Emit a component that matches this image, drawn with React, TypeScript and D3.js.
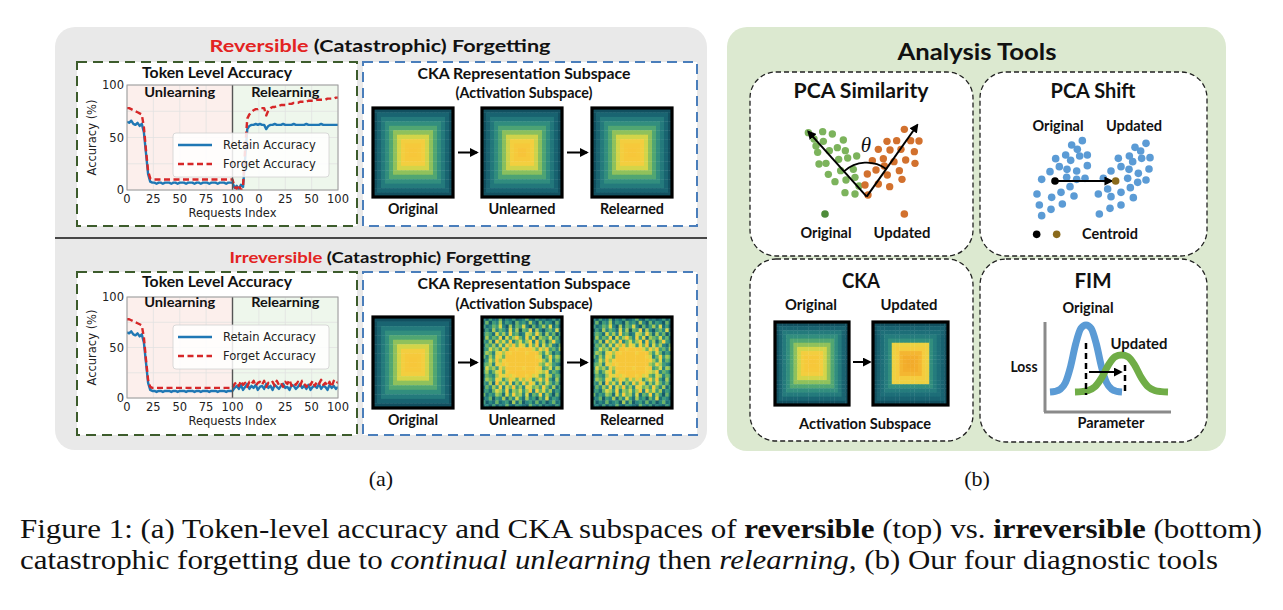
import React from "react";
import * as d3 from "d3";

const W = 1283;
const H = 610;

const CAL = "Lato, 'Open Sans', 'DejaVu Sans', sans-serif";
const MPL = "'DejaVu Sans', sans-serif";
const SERIF = "'Liberation Serif', 'Times New Roman', Tinos, Times, serif";

// ---------------- Token-level accuracy data (request index, step 2) ----------------
const requestStep = 2;
const xTickValues = [0, 25, 50, 75, 100, 125, 150, 175, 200];
const xTickLabels = ["0", "25", "50", "75", "100", "0", "25", "50", "100"];
const yTickValues = [0, 50, 100];
const yGridValues = [0, 25, 50, 75, 100];

// x = 0..100 (unlearning phase)
const unlearnRetain = [
  65, 64, 66, 63, 62, 64, 61, 63,
  55, 35, 15, 8, 7,
  7, 6, 7, 7, 6, 7, 7, 7, 6, 7,
  7, 6, 7, 7, 7, 6, 7, 7, 7, 6,
  7, 7, 6, 7, 7, 7, 6, 7, 7, 7,
  6, 7, 7, 7, 6, 7, 7,
  7,
];
const unlearnForget = [
  78, 78, 77, 76, 75, 74, 73, 72,
  60, 38, 18, 11, 10,
  10, 10, 10, 10, 10, 10, 10, 10, 10, 10,
  10, 10, 10, 10, 10, 10, 10, 10, 10, 10,
  10, 10, 10, 10, 10, 10, 10, 10, 10, 10,
  10, 10, 10, 10, 10, 10, 10,
  10,
];
// x = 102..200 (relearning phase)
const revRelearnRetain = [
  2, 4, 1, 5, 3, 30,
  58, 61, 62, 62, 63, 62, 63, 62, 62, 58,
  61, 62, 62, 63, 62, 62, 62, 63, 62, 62,
  62, 62, 63, 62, 62, 62, 62, 62, 63, 62,
  62, 62, 62, 62, 62, 63, 62, 62, 62, 62,
  62, 62, 62, 62,
];
const revRelearnForget = [
  3, 1, 5, 0, 4, 40,
  68, 72, 74, 76, 77, 77, 78, 78, 78, 71, 76,
  78, 79, 79, 80, 80, 81, 81, 81, 82, 82,
  82, 83, 83, 83, 84, 84, 84, 84, 85, 85,
  85, 85, 86, 86, 86, 86, 86, 87, 87, 87,
  87, 88, 88,
];
const irrRelearnRetain = [
  10, 12, 9, 13, 8, 11, 14, 9, 12, 10,
  13, 8, 11, 12, 9, 14, 10, 12, 8, 13,
  11, 9, 12, 14, 10, 11, 8, 13, 12, 9,
  11, 14, 10, 12, 9, 13, 8, 11, 12, 10,
  14, 9, 12, 11, 8, 13, 10, 12, 9, 11,
];
const irrRelearnForget = [
  14, 16, 12, 17, 13, 15, 11, 16, 14, 17,
  12, 15, 16, 13, 17, 11, 15, 14, 16, 12,
  17, 13, 15, 11, 16, 14, 18, 12, 15, 13,
  16, 12, 17, 14, 11, 15, 13, 17, 12, 16,
  14, 18, 13, 15, 12, 16, 11, 17, 14, 16,
];

// ---------------- CKA heatmaps (levels 0..10) ----------------
const ckaColorLevels = [0, 1, 2, 3, 4, 5, 6, 7, 8, 9, 10];
const ckaColorStops = [
  "#0e4556", "#155a6a", "#1d6e78", "#2a8580", "#3f9c7a", "#6cb466",
  "#a6c955", "#d8d648", "#f2d040", "#f7c73a", "#f2ab2b",
];
// ring values, outermost ring first
const ckaRevOriginalRings = [0.5, 1.5, 2.5, 3.4, 4.4, 5.6, 6.9, 8.2, 8.8, 9.0];
const ckaRevUnlearnedRings = [0.5, 1.4, 2.4, 3.3, 4.3, 5.5, 6.8, 8.1, 8.8, 9.1];
const ckaRevRelearnedRings = [0.5, 1.5, 2.5, 3.4, 4.4, 5.6, 6.9, 8.2, 8.8, 9.0];
const ckaToolUpdatedRings = [0.5, 1.4, 2.0, 2.6, 3.4, 7.8, 8.4, 9.6, 9.9, 10];
const ckaIrrUnlearnedRows = [
  "314225132412352142312413",
  "251436243153426315243152",
  "423547316254731524637241",
  "142635427361548263145372",
  "354274638452376485263514",
  "263548274695384726547352",
  "436285749357468394625843",
  "254637486958748593746325",
  "347564859989999758694536",
  "465378698999989996475243",
  "536487599999999987358465",
  "247596899999999998647354",
  "456387989999999996586432",
  "375648699999899989457365",
  "463579589999999987683542",
  "254368797899989785476354",
  "365487469758697468594263",
  "436295748364859736475352",
  "253648375946387564853624",
  "342576483657469385746243",
  "524365274856372548364152",
  "235143625374263415372431",
  "413252341625134252413523",
  "231413252143215324132142",
];
const ckaIrrRelearnedRows = [
  "314225132412352142312413",
  "251436243153426315243152",
  "423547316254731524637241",
  "142635427361548263145372",
  "354274638452376485263514",
  "263548274695384726547352",
  "436285749357468394625843",
  "254637486958748593746325",
  "347564859989999758694536",
  "465378698999989996475243",
  "536487599999999987358465",
  "247596899999999998647354",
  "456387989999999996586432",
  "375648699999899989457365",
  "463579589999999987683542",
  "254368797899989785476354",
  "365487469758697468594263",
  "436295748364859736475352",
  "253648375946387564853624",
  "342576483657469385746243",
  "524365274856372548364152",
  "235143625374263415372431",
  "413252341625134252413523",
  "231413252143215324132142",
];

// ---------------- PCA similarity (panel units 0..720 x 0..570) ----------------
const pcaSimOriginal: [number, number][] = [
  [205, 188], [248, 185], [222, 207], [277, 192], [250, 214], [310, 210],
  [228, 228], [233, 247], [268, 242], [292, 233], [316, 242], [350, 258],
  [237, 282], [258, 280], [296, 268], [323, 264], [265, 313], [302, 302],
  [340, 298], [285, 335], [318, 330], [345, 322], [357, 348], [315, 368],
  [345, 372],
];
const pcaSimUpdated: [number, number][] = [
  [493, 178], [441, 214], [470, 212], [512, 212], [537, 213], [415, 238],
  [450, 240], [483, 238], [523, 245], [397, 272], [430, 266], [462, 275],
  [497, 270], [525, 280], [382, 312], [408, 300], [442, 315], [478, 302],
  [375, 345], [415, 342], [449, 350], [486, 328], [384, 375], [433, 288],
];
const pcaSimVertex: [number, number] = [380, 380];
const pcaSimAxisOriginal: [number, number] = [205, 185];
const pcaSimAxisUpdated: [number, number] = [532, 165];

// ---------------- PCA shift ----------------
const pcaShiftOriginal: [number, number][] = [
  [200, 328], [186, 372], [193, 405], [200, 437], [228, 418], [230, 382],
  [225, 305], [242, 266], [253, 290], [262, 402], [258, 367], [272, 255],
  [287, 271], [290, 225], [307, 238], [322, 212], [314, 258], [337, 255],
  [337, 287], [305, 303], [276, 298], [275, 322], [285, 350], [297, 378],
  [305, 328], [330, 325],
];
const pcaShiftUpdated: [number, number][] = [
  [385, 325], [408, 303], [398, 357], [370, 372], [373, 432], [405, 415],
  [408, 380], [430, 265], [438, 290], [438, 405], [438, 367], [463, 258],
  [462, 298], [458, 325], [466, 353], [475, 383], [480, 232], [497, 243],
  [473, 275], [500, 265], [513, 220], [525, 263], [522, 297], [490, 310],
  [513, 330], [488, 337],
];
const pcaShiftCentroidOriginal: [number, number] = [240, 333];
const pcaShiftCentroidUpdated: [number, number] = [422, 333];

// ---------------- FIM bell profile ----------------
const fimBellProfile = [0, 0.01, 0.04, 0.14, 0.38, 0.72, 0.95, 1, 0.95, 0.72, 0.38, 0.14, 0.04, 0.01, 0];

// =====================================================================
const ckaColor = d3
  .scaleLinear<string>()
  .domain(ckaColorLevels)
  .range(ckaColorStops)
  .interpolate(d3.interpolateRgb)
  .clamp(true);

function ringsToMatrix(rings: number[]): number[][] {
  const n = rings.length * 2;
  return d3.range(n).map((i) =>
    d3.range(n).map((j) => rings[Math.min(i, j, n - 1 - i, n - 1 - j)])
  );
}
function rowsToMatrix(rows: string[]): number[][] {
  return rows.map((r) => r.replace(/\s/g, "").split("").map(Number));
}

function Label(props: any) {
  const {
    x, y, size, len, children, fill = "#111", anchor = "middle",
    weight = 700, family = CAL, style, transform,
  } = props;
  return (
    <text
      x={x}
      y={y}
      fontSize={size}
      fontWeight={weight}
      fontFamily={family}
      fill={fill}
      textAnchor={anchor}
      textLength={len}
      lengthAdjust={len ? "spacingAndGlyphs" : undefined}
      style={style}
      transform={transform}
    >
      {children}
    </text>
  );
}

function Heatmap({ x, y, w, h, matrix }: { x: number; y: number; w: number; h: number; matrix: number[][] }) {
  const rows = matrix.length;
  const cols = d3.max(matrix, (r) => r.length) || 1;
  const xs = d3.scaleBand<number>().domain(d3.range(cols)).range([x, x + w]);
  const ys = d3.scaleBand<number>().domain(d3.range(rows)).range([y, y + h]);
  return (
    <g>
      {matrix.map((row, i) =>
        row.map((v, j) => (
          <rect
            key={i + "-" + j}
            x={xs(j)}
            y={ys(i)}
            width={xs.bandwidth() + 0.4}
            height={ys.bandwidth() + 0.4}
            fill={ckaColor(v)}
          />
        ))
      )}
      <rect x={x} y={y} width={w} height={h} fill="none" stroke="#000" strokeWidth={3.2} />
    </g>
  );
}

type AccLayout = {
  id: string;
  plotTop: number;
  plotBottom: number;
  boxTop: number;
  boxBottom: number;
  legendTop: number;
  titleY: number;
  phaseY: number;
};

function AccuracyPanel({ layout, retain, forget }: { layout: AccLayout; retain: number[]; forget: number[] }) {
  const { id, plotTop, plotBottom, boxTop, boxBottom, legendTop, titleY, phaseY } = layout;
  const x = d3.scaleLinear().domain([0, 200]).range([127, 338]);
  const y = d3.scaleLinear().domain([0, 100]).range([plotBottom, plotTop]);
  const line = d3
    .line<number>()
    .x((_, i) => x(i * requestStep))
    .y((d) => y(d));
  const lx = 173;
  return (
    <g>
      <rect x={77} y={boxTop} width={280} height={boxBottom - boxTop} fill="#fff" stroke="#3d5c2c" strokeWidth={2} strokeDasharray="10,6" />
      <clipPath id={id}>
        <rect x={x(0)} y={plotTop} width={x(200) - x(0)} height={plotBottom - plotTop} />
      </clipPath>
      <rect x={x(0)} y={plotTop} width={x(100) - x(0)} height={plotBottom - plotTop} fill="#fcefec" />
      <rect x={x(100)} y={plotTop} width={x(200) - x(100)} height={plotBottom - plotTop} fill="#eef7ec" />
      {xTickValues.map((t) => (
        <line key={"gx" + t} x1={x(t)} x2={x(t)} y1={plotTop} y2={plotBottom} stroke="#e2e2e2" strokeWidth={0.8} />
      ))}
      {yGridValues.map((t) => (
        <line key={"gy" + t} x1={x(0)} x2={x(200)} y1={y(t)} y2={y(t)} stroke="#e2e2e2" strokeWidth={0.8} />
      ))}
      <g clipPath={`url(#${id})`}>
        <path d={line(retain) || ""} fill="none" stroke="#1f77b4" strokeWidth={2.4} strokeLinejoin="round" />
        <path d={line(forget) || ""} fill="none" stroke="#d62728" strokeWidth={2.4} strokeDasharray="6,3.5" strokeLinejoin="round" />
      </g>
      <line x1={x(100)} x2={x(100)} y1={plotTop} y2={plotBottom} stroke="#555" strokeWidth={1.4} />
      <rect x={x(0)} y={plotTop} width={x(200) - x(0)} height={plotBottom - plotTop} fill="none" stroke="#9a9a9a" strokeWidth={1} />
      {xTickValues.map((t, i) => (
        <text key={"tx" + t} x={x(t)} y={plotBottom + 13} fontSize={11.5} fontFamily={MPL} fill="#222" textAnchor="middle">
          {xTickLabels[i]}
        </text>
      ))}
      {yTickValues.map((t) => (
        <text key={"ty" + t} x={x(0) - 3} y={y(t) + 4} fontSize={11.5} fontFamily={MPL} fill="#222" textAnchor="end">
          {t}
        </text>
      ))}
      <text
        x={0}
        y={0}
        transform={`translate(${92},${(plotTop + plotBottom) / 2}) rotate(-90)`}
        fontSize={11.5}
        fontFamily={MPL}
        fill="#222"
        textAnchor="middle"
        dominantBaseline="middle"
      >
        Accuracy (%)
      </text>
      <text x={x(100)} y={plotBottom + 27} fontSize={11.5} fontFamily={MPL} fill="#222" textAnchor="middle">
        Requests Index
      </text>
      {/* legend */}
      <rect x={lx} y={legendTop} width={156} height={44} rx={3} fill="#fff" fillOpacity={0.85} stroke="#d0d0d0" strokeWidth={0.8} />
      <line x1={lx + 5} x2={lx + 39} y1={legendTop + 12} y2={legendTop + 12} stroke="#1f77b4" strokeWidth={2.4} />
      <line x1={lx + 5} x2={lx + 39} y1={legendTop + 31} y2={legendTop + 31} stroke="#d62728" strokeWidth={2.4} strokeDasharray="6,3.5" />
      <text x={lx + 50} y={legendTop + 16} fontSize={11.5} fontFamily={MPL} fill="#222">
        Retain Accuracy
      </text>
      <text x={lx + 50} y={legendTop + 35} fontSize={11.5} fontFamily={MPL} fill="#222">
        Forget Accuracy
      </text>
      <Label x={217} y={titleY} size={16} len={150}>Token Level Accuracy</Label>
      <Label x={x(50)} y={phaseY} size={14} len={71}>Unlearning</Label>
      <Label x={x(150)} y={phaseY} size={14} len={68}>Relearning</Label>
    </g>
  );
}

function CkaPanel({ boxTop, boxBottom, titleY, subY, mapTop, mapH, labelY, maps }: any) {
  const mapX = [373, 482, 592];
  const mapW = 80;
  const names = ["Original", "Unlearned", "Relearned"];
  const nameLen = [50, 67, 64];
  const midY = mapTop + mapH / 2;
  return (
    <g>
      <rect x={363} y={boxTop} width={334} height={boxBottom - boxTop} fill="#fff" stroke="#4a7ebb" strokeWidth={2} strokeDasharray="10,6" />
      <Label x={524} y={titleY} size={16} len={213}>CKA Representation Subspace</Label>
      <Label x={524} y={subY} size={15} len={137}>(Activation Subspace)</Label>
      {maps.map((m: number[][], i: number) => (
        <Heatmap key={i} x={mapX[i]} y={mapTop} w={mapW} h={mapH} matrix={m} />
      ))}
      {[0, 1].map((i) => (
        <line key={i} x1={mapX[i] + mapW + 5} x2={mapX[i + 1] - 5} y1={midY} y2={midY} stroke="#000" strokeWidth={2} markerEnd="url(#ah)" />
      ))}
      {names.map((n, i) => (
        <Label key={n} x={mapX[i] + mapW / 2} y={labelY} size={15} len={nameLen[i]}>{n}</Label>
      ))}
    </g>
  );
}

export default function App() {
  const accTop: AccLayout = { id: "clipA", plotTop: 85, plotBottom: 190, boxTop: 62, boxBottom: 226, legendTop: 133, titleY: 78, phaseY: 97 };
  const accBot: AccLayout = { id: "clipB", plotTop: 297, plotBottom: 398, boxTop: 272, boxBottom: 435, legendTop: 325, titleY: 287, phaseY: 307 };

  const revMaps = [ringsToMatrix(ckaRevOriginalRings), ringsToMatrix(ckaRevUnlearnedRings), ringsToMatrix(ckaRevRelearnedRings)];
  const irrMaps = [ringsToMatrix(ckaRevOriginalRings), rowsToMatrix(ckaIrrUnlearnedRows), rowsToMatrix(ckaIrrRelearnedRows)];

  // PCA similarity
  const sx = d3.scaleLinear().domain([0, 720]).range([740, 980]);
  const sy = d3.scaleLinear().domain([0, 570]).range([70, 260]);
  const vX = sx(pcaSimVertex[0]);
  const vY = sy(pcaSimVertex[1]);
  const a1 = Math.atan2(sy(pcaSimAxisOriginal[1]) - vY, sx(pcaSimAxisOriginal[0]) - vX);
  const a2 = Math.atan2(sy(pcaSimAxisUpdated[1]) - vY, sx(pcaSimAxisUpdated[0]) - vX);
  const rArc = 34;
  const arcPath = `M${vX + rArc * Math.cos(a1)},${vY + rArc * Math.sin(a1)} A${rArc},${rArc} 0 0,1 ${vX + rArc * Math.cos(a2)},${vY + rArc * Math.sin(a2)}`;

  // PCA shift
  const tx = d3.scaleLinear().domain([0, 720]).range([975, 1215]);
  const ty = d3.scaleLinear().domain([0, 570]).range([70, 260]);

  // FIM
  const fimY = (h: number) => d3.scaleLinear().domain([0, 1]).range([392, 392 - h]);
  const blueX = d3.scaleLinear().domain([0, fimBellProfile.length - 1]).range([1050, 1122]);
  const greenX = d3.scaleLinear().domain([0, fimBellProfile.length - 1]).range([1075, 1168]);
  const blueY = fimY(67);
  const greenY = fimY(37);
  const blueLine = d3.line<number>().x((_, i) => blueX(i)).y((d) => blueY(d)).curve(d3.curveMonotoneX);
  const greenLine = d3.line<number>().x((_, i) => greenX(i)).y((d) => greenY(d)).curve(d3.curveMonotoneX);

  return (
    <svg width={W} height={H} style={{ position: "absolute", left: 0, top: 0, background: "#fff" }}>
      <defs>
        <marker id="ah" viewBox="0 0 10 10" refX={8} refY={5} markerWidth={9} markerHeight={9} markerUnits="userSpaceOnUse" orient="auto">
          <path d="M0,0 L10,5 L0,10 z" fill="#000" />
        </marker>
      </defs>
      <rect width={W} height={H} fill="#fff" />

      {/* ========== (a) left panel ========== */}
      <rect x={55} y={27} width={652} height={423} rx={20} fill="#e9e9e9" />
      <text x={380} y={52} fontSize={17} fontWeight={700} fontFamily={CAL} textAnchor="middle" fill="#111" textLength={341} lengthAdjust="spacingAndGlyphs">
        <tspan fill="#e32322">Reversible</tspan>
        {" (Catastrophic) Forgetting"}
      </text>
      <AccuracyPanel layout={accTop} retain={unlearnRetain.concat(revRelearnRetain)} forget={unlearnForget.concat(revRelearnForget)} />
      <CkaPanel boxTop={62} boxBottom={226} titleY={79} subY={98} mapTop={108} mapH={89} labelY={214} maps={revMaps} />

      <line x1={55} x2={707} y1={238} y2={238} stroke="#111" strokeWidth={1.5} />

      <text x={380} y={263} fontSize={16} fontWeight={700} fontFamily={CAL} textAnchor="middle" fill="#111" textLength={301} lengthAdjust="spacingAndGlyphs">
        <tspan fill="#e32322">Irreversible</tspan>
        {" (Catastrophic) Forgetting"}
      </text>
      <AccuracyPanel layout={accBot} retain={unlearnRetain.concat(irrRelearnRetain)} forget={unlearnForget.concat(irrRelearnForget)} />
      <CkaPanel boxTop={272} boxBottom={435} titleY={289} subY={309} mapTop={317} mapH={91} labelY={425} maps={irrMaps} />

      {/* ========== (b) right panel ========== */}
      <rect x={727} y={27} width={499} height={424} rx={20} fill="#dce9d0" />
      <Label x={977} y={60} size={22} len={159}>Analysis Tools</Label>

      {[
        [750, 72, 223, 184],
        [980, 72, 227, 184],
        [750, 259, 223, 182],
        [980, 259, 227, 183],
      ].map(([bx, by, bw, bh], i) => (
        <rect key={"box" + i} x={bx} y={by} width={bw} height={bh} rx={26} fill="#fff" stroke="#222" strokeWidth={1.3} strokeDasharray="5,3" />
      ))}

      {/* PCA Similarity */}
      <Label x={861} y={98} size={20} len={135}>PCA Similarity</Label>
      {pcaSimOriginal.map(([px, py], i) => (
        <circle key={"so" + i} cx={sx(px)} cy={sy(py)} r={3.7} fill="#7cb35c" />
      ))}
      {pcaSimUpdated.map(([px, py], i) => (
        <circle key={"su" + i} cx={sx(px)} cy={sy(py)} r={3.7} fill="#d2712e" />
      ))}
      <line x1={vX} y1={vY} x2={sx(pcaSimAxisOriginal[0])} y2={sy(pcaSimAxisOriginal[1])} stroke="#000" strokeWidth={2} markerEnd="url(#ah)" />
      <line x1={vX} y1={vY} x2={sx(pcaSimAxisUpdated[0])} y2={sy(pcaSimAxisUpdated[1])} stroke="#000" strokeWidth={2} markerEnd="url(#ah)" />
      <path d={arcPath} fill="none" stroke="#000" strokeWidth={1.8} />
      <text x={866} y={152} fontSize={21} fontStyle="italic" fontFamily={SERIF} textAnchor="middle" fill="#111">θ</text>
      <circle cx={sx(255)} cy={sy(432)} r={3.8} fill="#4e8c3a" />
      <circle cx={sx(493)} cy={sy(432)} r={3.8} fill="#d2712e" />
      <Label x={826} y={238} size={15} len={51}>Original</Label>
      <Label x={902} y={238} size={15} len={57}>Updated</Label>

      {/* PCA Shift */}
      <Label x={1093} y={98} size={20} len={85}>PCA Shift</Label>
      <Label x={1058} y={131} size={15} len={51}>Original</Label>
      <Label x={1134} y={131} size={15} len={56}>Updated</Label>
      {pcaShiftOriginal.concat(pcaShiftUpdated).map(([px, py], i) => (
        <circle key={"ps" + i} cx={tx(px)} cy={ty(py)} r={3.8} fill="#5b9bd5" />
      ))}
      <line
        x1={tx(pcaShiftCentroidOriginal[0])}
        y1={ty(pcaShiftCentroidOriginal[1])}
        x2={tx(pcaShiftCentroidUpdated[0]) - 4}
        y2={ty(pcaShiftCentroidUpdated[1])}
        stroke="#000"
        strokeWidth={2}
        markerEnd="url(#ah)"
      />
      <circle cx={tx(pcaShiftCentroidOriginal[0])} cy={ty(pcaShiftCentroidOriginal[1])} r={3.8} fill="#000" />
      <circle cx={tx(pcaShiftCentroidUpdated[0])} cy={ty(pcaShiftCentroidUpdated[1])} r={3.8} fill="#8a6a1c" />
      <circle cx={tx(185)} cy={ty(493)} r={3.8} fill="#000" />
      <circle cx={tx(245)} cy={ty(493)} r={3.8} fill="#8a6a1c" />
      <Label x={1110} y={239} size={15} len={56}>Centroid</Label>

      {/* CKA tool */}
      <Label x={861} y={288} size={20} len={38}>CKA</Label>
      <Label x={811} y={310} size={15} len={52}>Original</Label>
      <Label x={909} y={310} size={15} len={57}>Updated</Label>
      <Heatmap x={775} y={322} w={74} h={83} matrix={ringsToMatrix(ckaRevOriginalRings)} />
      <Heatmap x={873} y={322} w={75} h={83} matrix={ringsToMatrix(ckaToolUpdatedRings)} />
      <line x1={853} x2={870} y1={362} y2={362} stroke="#000" strokeWidth={2} markerEnd="url(#ah)" />
      <Label x={865} y={429} size={15} len={132}>Activation Subspace</Label>

      {/* FIM */}
      <Label x={1093} y={288} size={20} len={37}>FIM</Label>
      <line x1={1045} x2={1045} y1={322} y2={412} stroke="#8a8a8a" strokeWidth={3} />
      <line x1={1044} x2={1171} y1={412} y2={412} stroke="#8a8a8a" strokeWidth={3} />
      <path d={blueLine(fimBellProfile) || ""} fill="none" stroke="#5b9bd5" strokeWidth={7} />
      <path d={greenLine(fimBellProfile) || ""} fill="none" stroke="#70ad47" strokeWidth={7} />
      <line x1={1086} x2={1086} y1={343} y2={395} stroke="#000" strokeWidth={2.5} strokeDasharray="6,4" />
      <line x1={1125} x2={1125} y1={365} y2={395} stroke="#000" strokeWidth={2.5} strokeDasharray="6,4" />
      <line x1={1089} x2={1121} y1={372} y2={372} stroke="#000" strokeWidth={2} markerEnd="url(#ah)" />
      <Label x={1088} y={313} size={15} len={51}>Original</Label>
      <Label x={1139} y={349} size={15} len={57}>Updated</Label>
      <Label x={1024} y={372} size={15} len={27}>Loss</Label>
      <Label x={1111} y={428} size={15} len={67}>Parameter</Label>

      {/* sub-labels */}
      <text x={381} y={486} fontSize={22} fontFamily={SERIF} textAnchor="middle" fill="#111">(a)</text>
      <text x={977} y={486} fontSize={22} fontFamily={SERIF} textAnchor="middle" fill="#111">(b)</text>

      {/* caption */}
      <text x={20} y={538} fontSize={28} fontFamily={SERIF} fill="#111" textLength={1242} lengthAdjust="spacingAndGlyphs">
        {"Figure 1: (a) Token-level accuracy and CKA subspaces of "}
        <tspan fontWeight={700}>reversible</tspan>
        {" (top) vs. "}
        <tspan fontWeight={700}>irreversible</tspan>
        {" (bottom)"}
      </text>
      <text x={20} y={569} fontSize={28} fontFamily={SERIF} fill="#111" textLength={1198} lengthAdjust="spacingAndGlyphs">
        {"catastrophic forgetting due to "}
        <tspan fontStyle="italic">continual unlearning</tspan>
        {" then "}
        <tspan fontStyle="italic">relearning</tspan>
        {", (b) Our four diagnostic tools"}
      </text>
    </svg>
  );
}
